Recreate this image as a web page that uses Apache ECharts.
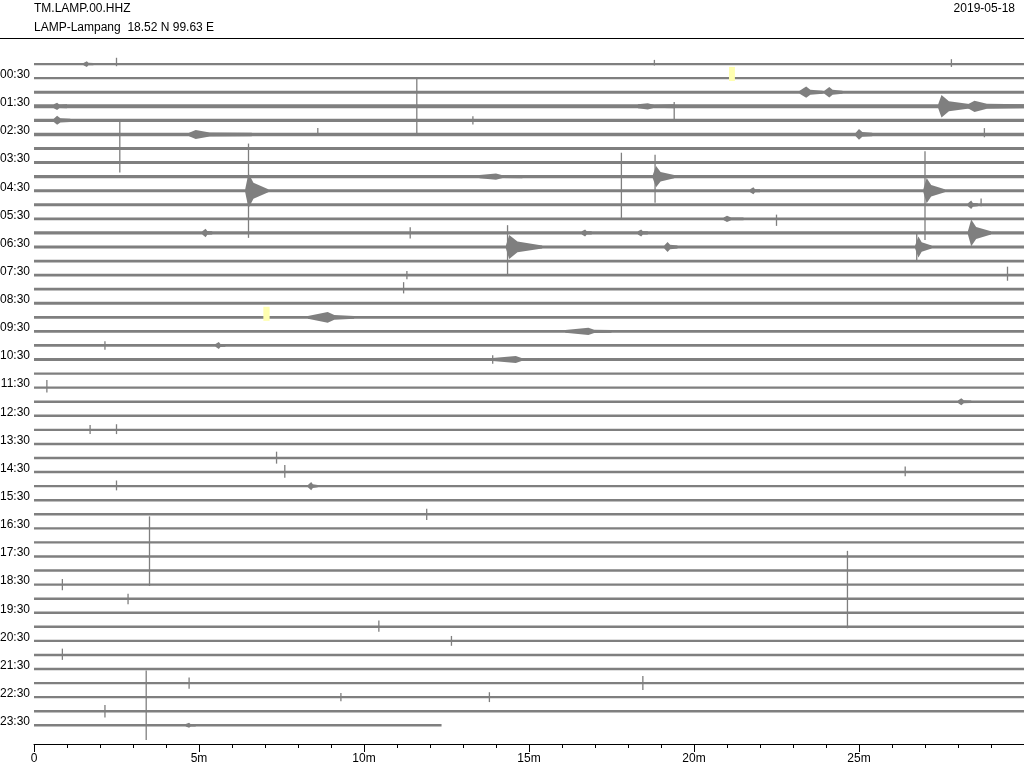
<!DOCTYPE html>
<html>
<head>
<meta charset="utf-8">
<script src="https://cdn.jsdelivr.net/npm/echarts/dist/echarts.min.js"></script>
<style>
html,body{margin:0;padding:0;background:#fff;}
#chart{width:1024px;height:768px;}
</style>
</head>
<body>
<div id="chart"></div>
<script>
// ---- header texts ----
const stationCode = 'TM.LAMP.00.HHZ';
const stationName = 'LAMP-Lampang  18.52 N 99.63 E';
const dayLabel = '2019-05-18';

// ---- row labels (every second 30-minute trace) ----
const rowLabels = ['00:30','01:30','02:30','03:30','04:30','05:30','06:30','07:30',
  '08:30','09:30','10:30','11:30','12:30','13:30','14:30','15:30','16:30','17:30',
  '18:30','19:30','20:30','21:30','22:30','23:30'];
const labelRows = [1,3,5,7,9,11,13,15,17,19,21,23,25,27,29,31,33,35,37,39,41,43,45,47];

// ---- x tick labels (minutes) ----
const minuteTicks = [0,5,10,15,20,25];
const minuteTickLabels = ['0','5m','10m','15m','20m','25m'];

// ---- background noise half-amplitude per trace (trace spacing = 1) ----
const noiseAmp = [0.075,0.075,0.1,0.14,0.12,0.12,0.11,0.11,0.11,0.11,
  0.11,0.1,0.11,0.1,0.1,0.1,0.1,0.1,0.1,0.1,
  0.1,0.1,0.085,0.085,0.085,0.085,0.085,0.085,0.085,0.085,
  0.085,0.085,0.085,0.085,0.085,0.085,0.085,0.085,0.085,0.085,
  0.085,0.085,0.085,0.085,0.085,0.085,0.085,0.085];
// length (minutes) of each trace; last one stops early
const traceLength = [30,30,30,30,30,30,30,30,30,30,30,30,30,30,30,30,30,30,30,30,
  30,30,30,30,30,30,30,30,30,30,30,30,30,30,30,30,30,30,30,30,
  30,30,30,30,30,30,30,12.35];

// ---- wave trains: [trace, startMin, peakMin, endMin, amplitude] ----
const events = [
  [0, 1.5, 1.6, 1.8, 0.2],
  [2, 23.2, 23.4, 23.9, 0.4],
  [2, 23.95, 24.1, 24.5, 0.38],
  [3, 0.6, 0.7, 1.0, 0.26],
  [3, 18.3, 18.6, 19.4, 0.22],
  [3, 27.4, 27.5, 28.4, 0.8],
  [3, 28.3, 28.5, 30, 0.4],
  [4, 0.6, 0.7, 1.1, 0.32],
  [5, 4.7, 4.9, 6.6, 0.32],
  [5, 24.9, 25.0, 25.4, 0.38],
  [8, 13.5, 14.0, 14.8, 0.22],
  [8, 18.75, 18.85, 19.4, 0.75],
  [9, 6.4, 6.5, 7.1, 1.25],
  [9, 21.7, 21.8, 22.0, 0.25],
  [9, 26.95, 27.05, 27.6, 0.9],
  [10, 28.3, 28.4, 28.6, 0.3],
  [11, 20.9, 21.0, 21.5, 0.22],
  [12, 5.1, 5.2, 5.4, 0.3],
  [12, 16.6, 16.7, 16.9, 0.25],
  [12, 18.3, 18.4, 18.6, 0.25],
  [12, 28.3, 28.4, 29.0, 0.95],
  [13, 14.3, 14.4, 15.4, 0.85],
  [13, 19.1, 19.2, 19.5, 0.35],
  [13, 26.7, 26.8, 27.2, 0.75],
  [18, 8.3, 8.9, 9.7, 0.38],
  [19, 16.1, 16.8, 17.5, 0.25],
  [20, 5.5, 5.6, 5.8, 0.25],
  [21, 13.9, 14.6, 15.3, 0.25],
  [24, 28.0, 28.1, 28.4, 0.25],
  [30, 8.3, 8.4, 8.6, 0.3],
  [47, 4.6, 4.7, 4.9, 0.18]
];

// ---- single spikes: [trace, minute, up, down] ----
const spikes = [
  [0, 2.5, 0.45, 0.15], [0, 18.8, 0.3, 0.1], [0, 27.8, 0.35, 0.2],
  [3, 11.6, 2.0, 2.05], [3, 19.4, 0.3, 1.0],
  [4, 13.3, 0.3, 0.3],
  [5, 8.6, 0.45, 0.1], [5, 28.8, 0.45, 0.2],
  [6, 2.6, 2.1, 1.7],
  [8, 18.82, 1.55, 1.85],
  [9, 6.5, 3.35, 3.35], [9, 17.8, 2.7, 2.05], [9, 27.0, 2.8, 3.5],
  [10, 28.7, 0.45, 0.1],
  [11, 22.5, 0.3, 0.5],
  [12, 11.4, 0.4, 0.4],
  [13, 14.35, 1.55, 2.0], [13, 26.75, 1.0, 1.0],
  [15, 11.3, 0.3, 0.3], [15, 29.5, 0.6, 0.4],
  [16, 11.2, 0.5, 0.3],
  [20, 2.15, 0.3, 0.3],
  [21, 13.9, 0.3, 0.3],
  [23, 0.39, 0.55, 0.35],
  [26, 1.7, 0.35, 0.3], [26, 2.5, 0.4, 0.3],
  [28, 7.35, 0.45, 0.4],
  [29, 7.6, 0.5, 0.4], [29, 26.4, 0.4, 0.3],
  [30, 2.5, 0.4, 0.3],
  [32, 11.9, 0.4, 0.4],
  [35, 3.5, 2.85, 2.1],
  [37, 0.86, 0.4, 0.4], [37, 24.65, 2.4, 3.1],
  [38, 2.85, 0.35, 0.4],
  [40, 10.45, 0.45, 0.35],
  [41, 12.65, 0.35, 0.35],
  [42, 0.86, 0.45, 0.35],
  [44, 4.7, 0.4, 0.4], [44, 18.45, 0.5, 0.5],
  [45, 3.4, 1.9, 3.05], [45, 13.8, 0.35, 0.35], [45, 9.3, 0.3, 0.3],
  [46, 2.15, 0.45, 0.45]
];

// ---- pick markers: [trace, startMin, endMin, top, bottom] ----
const markers = [
  [1, 21.06, 21.24, -0.8, 0.2],
  [18, 6.95, 7.14, -0.75, 0.25]
];

const traceColor = '#7f7f7f';
const font = 'Liberation Sans, Arial, Helvetica, sans-serif';
const labelLift = 0.25; // labels sit slightly above their trace

const noiseData = noiseAmp.map((a, i) => [i, a, traceLength[i]]);

const chart = echarts.init(document.getElementById('chart'), null, {renderer: 'canvas'});

const option = {
  animation: false,
  backgroundColor: '#fff',
  grid: {left: 34, width: 990, top: 43, height: 701, containLabel: false, outerBoundsMode: 'none'},
  xAxis: {
    type: 'value', min: 0, max: 30, interval: 5,
    axisLine: {show: true, onZero: false, lineStyle: {color: '#000', width: 1}},
    axisTick: {show: true, length: 8, lineStyle: {color: '#000'}},
    minorTick: {show: true, splitNumber: 5, length: 4, lineStyle: {color: '#000'}},
    splitLine: {show: false},
    axisLabel: {
      color: '#000', fontSize: 12, fontFamily: font, margin: 9, showMaxLabel: false,
      formatter: v => { const k = minuteTicks.indexOf(v); return k >= 0 ? minuteTickLabels[k] : ''; }
    }
  },
  yAxis: {
    type: 'value', inverse: true, min: -1.5, max: 48.33,
    axisLine: {show: false}, axisTick: {show: false}, splitLine: {show: false},
    axisLabel: {
      show: true, customValues: labelRows.map(r => r - labelLift), color: '#000', fontSize: 12, fontFamily: font,
      margin: 4,
      formatter: v => { const k = labelRows.indexOf(Math.round(v + labelLift)); return k >= 0 ? rowLabels[k] : ''; }
    }
  },
  graphic: [
    {type: 'text', x: 34, y: 9, style: {text: stationCode, font: '12px ' + font, fill: '#000', verticalAlign: 'middle', align: 'left'}},
    {type: 'text', x: 34, y: 28, style: {text: stationName, font: '12px ' + font, fill: '#000', verticalAlign: 'middle', align: 'left'}},
    {type: 'text', x: 1015, y: 9, style: {text: dayLabel, font: '12px ' + font, fill: '#000', verticalAlign: 'middle', align: 'right'}},
    {type: 'line', shape: {x1: 0, y1: 38.5, x2: 1024, y2: 38.5}, style: {stroke: '#000', lineWidth: 1}}
  ],
  series: [
    {
      type: 'custom', name: 'noise', data: noiseData, clip: true,
      renderItem: (params, api) => {
        const r = api.value(0), a = api.value(1), len = api.value(2);
        const p0 = api.coord([0, r - a]);
        const p1 = api.coord([len, r + a]);
        return {type: 'rect', shape: {x: p0[0], y: p0[1], width: p1[0] - p0[0], height: p1[1] - p0[1]},
          style: {fill: traceColor}};
      }
    },
    {
      type: 'custom', name: 'events', data: events, clip: true,
      renderItem: (params, api) => {
        const r = api.value(0), s = api.value(1), pk = api.value(2), e = api.value(3), a = api.value(4);
        const n = noiseAmp[r];
        const mid = pk + (e - pk) * 0.25;
        const top = [[s, r - n], [pk, r - a], [mid, r - a * 0.45], [e, r - n]];
        const bot = [[e, r + n], [mid, r + a * 0.45], [pk, r + a], [s, r + n]];
        const pts = top.concat(bot).map(p => api.coord(p));
        return {type: 'polygon', shape: {points: pts}, style: {fill: traceColor}};
      }
    },
    {
      type: 'custom', name: 'spikes', data: spikes, clip: true,
      renderItem: (params, api) => {
        const r = api.value(0), m = api.value(1), up = api.value(2), dn = api.value(3);
        const p0 = api.coord([m, r - up]);
        const p1 = api.coord([m, r + dn]);
        return {type: 'line', shape: {x1: p0[0], y1: p0[1], x2: p1[0], y2: p1[1]},
          style: {stroke: traceColor, lineWidth: 1.3}};
      }
    },
    {
      type: 'custom', name: 'markers', data: markers, clip: true, z: 5,
      renderItem: (params, api) => {
        const r = api.value(0), s = api.value(1), e = api.value(2), t = api.value(3), b = api.value(4);
        const p0 = api.coord([s, r + t]);
        const p1 = api.coord([e, r + b]);
        return {type: 'rect', shape: {x: p0[0], y: p0[1], width: p1[0] - p0[0], height: p1[1] - p0[1]},
          style: {fill: '#ffffb0'}};
      }
    }
  ]
};
chart.setOption(option);
</script>
</body>
</html>
